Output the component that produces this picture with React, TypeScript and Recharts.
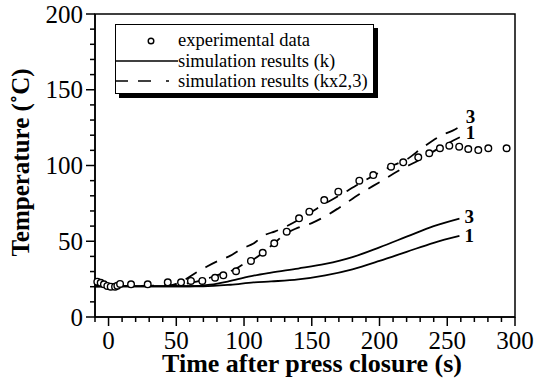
import { ComposedChart, Line, Scatter, XAxis, YAxis, ReferenceArea, Legend } from 'recharts';

// experimental thermocouple readings (s, °C)
const expTime = [-8.3, -5.8, -3.4, -0.9, 1.6, 4.8, 6.5, 8.5, 16.6, 28.9, 43.7, 53.5, 60.8, 69.2, 78.6, 84.7, 94.1, 105.1, 113.8, 122.3, 131.5, 140.6, 148.2, 159.2, 169.6, 185.1, 195.4, 208.5, 217.5, 228.6, 236.7, 244.6, 251.5, 258.8, 265.5, 272.9, 280.3, 293.8];
const expTemp = [23.3, 22.6, 21.6, 20.5, 20.0, 20.0, 20.7, 21.8, 21.6, 21.6, 22.9, 22.9, 23.8, 23.8, 25.9, 27.5, 30.2, 37.0, 42.4, 48.6, 56.3, 65.1, 69.5, 77.2, 82.7, 90.0, 93.7, 99.2, 102.1, 105.4, 108.1, 111.4, 113.1, 112.4, 110.9, 110.2, 111.4, 111.4];

// simulation (k), positions 3 and 1
const simK3Time = [-10, 60, 75, 90, 107, 120, 140, 160, 180, 200, 220, 240, 259];
const simK3Temp = [20.3, 20.3, 21.3, 23.8, 27.3, 29.3, 32, 35, 39.5, 46, 53, 60, 65];
const simK1Time = [-10, 70, 90, 107, 120, 140, 160, 180, 200, 220, 240, 259];
const simK1Temp = [20.3, 20.3, 21.3, 22.8, 23.5, 24.8, 27.5, 31.5, 37, 43, 49, 53.5];

// simulation (kx2,3), positions 3 and 1
const simKx3Time = [-10, 45, 55, 65, 72, 82, 90, 98, 107, 115, 123, 140, 150, 160, 170, 185, 196, 211, 220, 232, 246, 254, 260];
const simKx3Temp = [20.3, 20.8, 24, 29.5, 33, 37.5, 40.5, 45, 48.5, 54, 56.5, 64, 69.5, 75, 80, 88, 93.5, 100.5, 104, 112, 120, 123, 126];
const simKx1Time = [-10, 50, 60, 70, 80, 92, 100, 107, 114, 122, 131, 140, 150, 160, 170, 185, 200, 215, 230, 245, 260];
const simKx1Temp = [20.3, 20.8, 22.5, 24.5, 27.5, 31, 35, 38, 42.5, 48.5, 55, 59, 62, 66.5, 72, 81, 89, 97, 104, 112, 119];

const xTicks = [-10, 0, 10, 20, 30, 40, 50, 60, 70, 80, 90, 100, 110, 120, 130, 140, 150, 160, 170, 180, 190, 200, 210, 220, 230, 240, 250, 260, 270, 280, 290, 300];
const yTicks = [0, 10, 20, 30, 40, 50, 60, 70, 80, 90, 100, 110, 120, 130, 140, 150, 160, 170, 180, 190, 200];

const toPoints = (xs: number[], ys: number[]) => xs.map((x, i) => ({ x, y: ys[i] }));

const expData = toPoints(expTime, expTemp);
const k3Data = toPoints(simK3Time, simK3Temp);
const k1Data = toPoints(simK1Time, simK1Temp);
const kx3Data = toPoints(simKx3Time, simKx3Temp);
const kx1Data = toPoints(simKx1Time, simKx1Temp);

const SERIF = "'Liberation Serif', 'Times New Roman', Times, serif";
const TICK_SIZE = 9;
const TICK_GAP = 3;

function XTick(props: any) {
  const { x, y, payload } = props;
  const v = payload.value;
  const major = v % 50 === 0;
  const y0 = y - TICK_SIZE - TICK_GAP;
  return (
    <g>
      <line x1={x} x2={x} y1={y0} y2={y0 + (major ? 9 : 5)} stroke="#000" strokeWidth={1.5} />
      {major && (
        <text x={x} y={y0 + 32} textAnchor="middle" style={{ fontFamily: SERIF }} fontSize={25} fill="#000">
          {v}
        </text>
      )}
    </g>
  );
}

function YTick(props: any) {
  const { x, y, payload } = props;
  const v = payload.value;
  const major = v % 50 === 0;
  const x0 = x + TICK_SIZE + TICK_GAP;
  return (
    <g>
      <line x1={x0} x2={x0 - (major ? 9 : 5)} y1={y} y2={y} stroke="#000" strokeWidth={1.5} />
      {major && (
        <text x={x0 - 12} y={y + 8.5} textAnchor="end" style={{ fontFamily: SERIF }} fontSize={25} fill="#000">
          {v}
        </text>
      )}
    </g>
  );
}

const endLabel = (text: string, last: number, dy: number) => (props: any) => {
  if (props.index !== last) return <g />;
  return (
    <text x={props.x + 5} y={props.y + dy} style={{ fontFamily: SERIF }} fontSize={19} fontWeight="bold" fill="#000">
      {text}
    </text>
  );
};

const ExpDot = (props: any) => (
  <circle cx={props.cx} cy={props.cy} r={3.3} fill="#fff" stroke="#000" strokeWidth={1.4} />
);

function LegendBox() {
  const row = { position: 'absolute' as const, left: 62, fontSize: 18.5, lineHeight: '21px', whiteSpace: 'nowrap' as const };
  return (
    <div
      style={{
        position: 'relative',
        width: 257,
        height: 68,
        border: '1.5px solid #000',
        background: '#fff',
        boxShadow: '4px 4px 0 #000',
        fontFamily: SERIF,
        color: '#000',
      }}
    >
      <svg width={62} height={68} style={{ position: 'absolute', left: 0, top: 0 }}>
        <circle cx={35} cy={16} r={2.8} fill="#fff" stroke="#000" strokeWidth={1.4} />
        <line x1={0} x2={62} y1={36} y2={36} stroke="#000" strokeWidth={1.5} />
        <line x1={0} x2={62} y1={56} y2={56} stroke="#000" strokeWidth={1.5} strokeDasharray="12 10 13 15 3 20" />
      </svg>
      <div style={{ ...row, top: 5 }}>experimental data</div>
      <div style={{ ...row, top: 26 }}>simulation results (k)</div>
      <div style={{ ...row, top: 46 }}>simulation results (kx2,3)</div>
    </div>
  );
}

export default function App() {
  return (
    <div style={{ position: 'absolute', left: 0, top: 0, background: '#fff' }}>
      <ComposedChart width={535} height={379} margin={{ top: 14, right: 20, bottom: 0, left: 0 }}>
        <XAxis
          type="number"
          dataKey="x"
          domain={[-10, 300]}
          ticks={xTicks}
          interval={0}
          height={62}
          tickSize={TICK_SIZE}
          tickMargin={TICK_GAP}
          tickLine={false}
          tick={<XTick />}
          axisLine={{ stroke: '#000', strokeWidth: 1.5 }}
          label={{
            content: (p: any) => (
              <text x={312} y={p.viewBox.y + 55} textAnchor="middle" style={{ fontFamily: SERIF }} fontSize={26} fontWeight="bold" fill="#000">
                Time after press closure (s)
              </text>
            ),
          }}
        />
        <YAxis
          type="number"
          dataKey="y"
          domain={[0, 200]}
          ticks={yTicks}
          interval={0}
          width={95}
          tickSize={TICK_SIZE}
          tickMargin={TICK_GAP}
          tickLine={false}
          tick={<YTick />}
          axisLine={{ stroke: '#000', strokeWidth: 1.5 }}
          label={{
            content: (p: any) => {
              const cy = p.viewBox.y + p.viewBox.height / 2 - 3;
              return (
                <text x={29} y={cy} transform={`rotate(-90 29 ${cy})`} textAnchor="middle" style={{ fontFamily: SERIF }} fontSize={25} fontWeight="bold" fill="#000">
                  Temperature (˚C)
                </text>
              );
            },
          }}
        />
        <ReferenceArea x1={-10} x2={300} y1={0} y2={200} fill="none" stroke="#000" strokeWidth={1.5} />
        <Legend
          verticalAlign="middle"
          align="center"
          layout="horizontal"
          wrapperStyle={{ position: 'absolute', left: 115, top: 24, width: 'auto', height: 'auto' }}
          content={() => <LegendBox />}
        />
        <Line data={k1Data} dataKey="y" type="monotone" stroke="#000" strokeWidth={1.8} dot={false} isAnimationActive={false} label={endLabel('1', k1Data.length - 1, 6)} />
        <Line data={k3Data} dataKey="y" type="monotone" stroke="#000" strokeWidth={1.8} dot={false} isAnimationActive={false} label={endLabel('3', k3Data.length - 1, 4)} />
        <Line data={kx1Data} dataKey="y" type="monotone" stroke="#000" strokeWidth={1.8} strokeDasharray="13 10" dot={false} isAnimationActive={false} label={endLabel('1', kx1Data.length - 1, 2)} />
        <Line data={kx3Data} dataKey="y" type="monotone" stroke="#000" strokeWidth={1.8} strokeDasharray="13 10" dot={false} isAnimationActive={false} label={endLabel('3', kx3Data.length - 1, -3)} />
        <Scatter data={expData} dataKey="y" shape={<ExpDot />} isAnimationActive={false} />
      </ComposedChart>
    </div>
  );
}
